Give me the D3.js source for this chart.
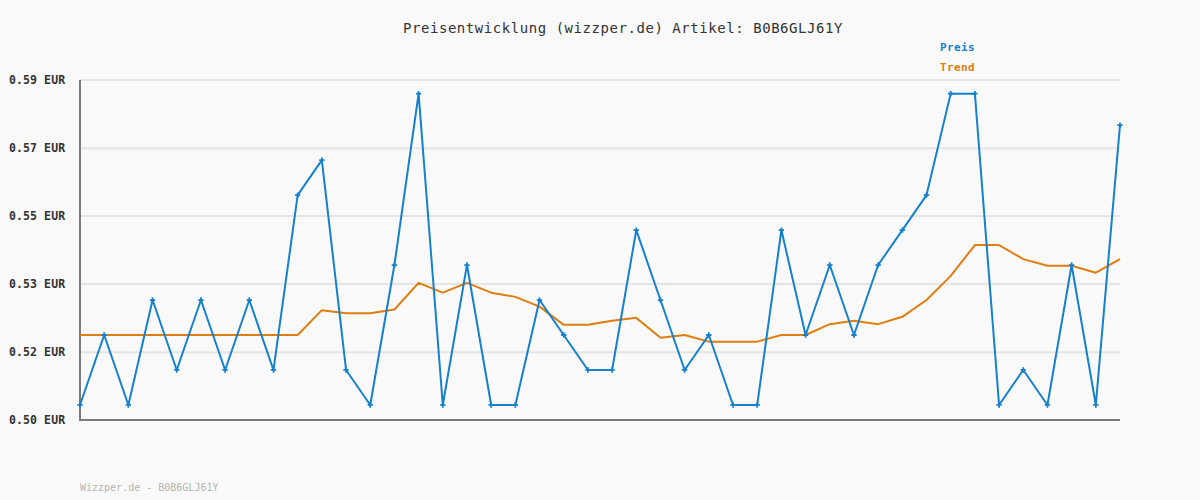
<!DOCTYPE html>
<html><head><meta charset="utf-8">
<script src="https://cdn.jsdelivr.net/npm/d3@7"></script>
<style>
html,body{margin:0;padding:0;background:#f9f9f9;}
svg{display:block;}
</style></head>
<body>
<svg id="chart" width="1200" height="500"></svg>
<script>
const title = "Preisentwicklung (wizzper.de) Artikel: B0B6GLJ61Y";
const footer = "Wizzper.de - B0B6GLJ61Y";
const seriesNames = ["Preis", "Trend"];
const preis = [0.50,0.52,0.50,0.53,0.51,0.53,0.51,0.53,0.51,0.56,0.57,0.51,0.50,0.54,0.589,0.50,0.54,0.50,0.50,0.53,0.52,0.51,0.51,0.55,0.53,0.51,0.52,0.50,0.50,0.55,0.52,0.54,0.52,0.54,0.55,0.56,0.589,0.589,0.50,0.51,0.50,0.54,0.50,0.58];
const trend = [0.52,0.52,0.52,0.52,0.52,0.52,0.52,0.52,0.52,0.52,0.5271,0.5262,0.5262,0.5273,0.5349,0.5321,0.5349,0.5321,0.5309,0.5281,0.5229,0.5229,0.5241,0.5249,0.5192,0.52,0.5181,0.5181,0.5181,0.52,0.52,0.5231,0.5241,0.5231,0.5252,0.53,0.5369,0.5457,0.5457,0.5417,0.5398,0.5398,0.5378,0.5417];
const yTickValues = [0.4957, 0.5151, 0.5346, 0.5540, 0.5734, 0.5929];
const yTickLabels = ["0.50 EUR","0.52 EUR","0.53 EUR","0.55 EUR","0.57 EUR","0.59 EUR"];

const colors = {preis:"#1581cc", trend:"#e07d10"};
const svg = d3.select("#chart");
const mLeft = 80, mRight = 1120, mTop = 80, mBottom = 420;
const x = d3.scaleLinear().domain([0, preis.length - 1]).range([mLeft, mRight]);
const y = d3.scaleLinear().domain([yTickValues[0], yTickValues[yTickValues.length-1]]).range([mBottom, mTop]);

svg.append("rect").attr("width",1200).attr("height",500).attr("fill","#f9f9f9");

svg.append("g").selectAll("line").data(yTickValues.slice(1)).join("line")
  .attr("x1", mLeft).attr("x2", mRight)
  .attr("y1", d => y(d)).attr("y2", d => y(d))
  .attr("stroke", "#e4e4e4").attr("stroke-width", 2);

svg.append("g").selectAll("text").data(yTickValues).join("text")
  .attr("x", 9).attr("y", d => y(d)).attr("dy", "0.35em")
  .attr("font-family", "DejaVu Sans Mono, monospace").attr("font-size", 11.5)
  .attr("font-weight", "bold").attr("fill", "#333").attr("letter-spacing", 0.1)
  .text((d, i) => yTickLabels[i]);

svg.append("line").attr("x1", mLeft).attr("x2", mLeft).attr("y1", mTop).attr("y2", mBottom + 1)
  .attr("stroke", "#7a7a7a").attr("stroke-width", 2);
svg.append("line").attr("x1", mLeft - 1).attr("x2", mRight).attr("y1", mBottom).attr("y2", mBottom)
  .attr("stroke", "#7a7a7a").attr("stroke-width", 2);

const line = d3.line().x((d, i) => x(i)).y(d => y(d));
svg.append("path").datum(trend).attr("d", line).attr("fill", "none")
  .attr("stroke", colors.trend).attr("stroke-width", 2).attr("stroke-linejoin","round");
svg.append("path").datum(preis).attr("d", line).attr("fill", "none")
  .attr("stroke", colors.preis).attr("stroke-width", 2).attr("stroke-linejoin","round");

svg.append("g").selectAll("path").data(preis).join("path")
  .attr("transform", (d, i) => `translate(${x(i)},${y(d)})`)
  .attr("d", d3.symbol().type(d3.symbolCross).size(16))
  .attr("fill", colors.preis);

svg.append("text").attr("x", 403).attr("y", 33)
  .attr("font-family", "DejaVu Sans Mono, monospace").attr("font-size", 14)
  .attr("letter-spacing", 0.55).attr("fill", "#333").text(title);

svg.append("g").selectAll("text").data(seriesNames).join("text")
  .attr("x", 940).attr("y", (d, i) => 51 + i * 20)
  .attr("font-family", "DejaVu Sans Mono, monospace").attr("font-size", 11)
  .attr("font-weight", "bold").attr("letter-spacing", 0.4)
  .attr("fill", (d, i) => i === 0 ? colors.preis : colors.trend).text(d => d);

svg.append("text").attr("x", 80).attr("y", 491)
  .attr("font-family", "DejaVu Sans Mono, monospace").attr("font-size", 10)
  .attr("fill", "#b4b4b4").text(footer);
</script>
</body></html>
